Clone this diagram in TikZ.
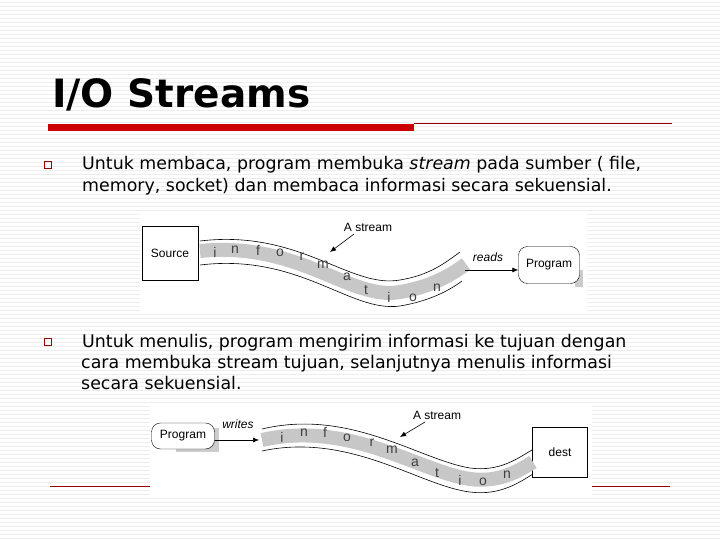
\documentclass[tikz,border=0pt]{standalone}
\usetikzlibrary{arrows.meta}
\usepackage{fontspec}
\setmainfont{DejaVu Sans}
\newfontfamily\arialf{Liberation Sans}
\begin{document}
\begin{tikzpicture}[x=1pt,y=-1pt,
  body/.style={anchor=base west,inner sep=0pt,font=\fontsize{17.4}{20}\selectfont},
  fig/.style={font=\arialf\fontsize{12}{14}\selectfont,inner sep=0pt},
  letter/.style={font=\arialf\fontsize{14}{14}\selectfont,text=black!75,inner sep=0pt},
  bul/.style={draw=red!60!black,line width=0.6pt,minimum size=7pt,inner sep=0pt},
  arr/.style={-{Latex[length=6pt,width=5pt]},line width=0.6pt}]
\useasboundingbox (0,0) rectangle (720,540);
\fill[white] (0,0) rectangle (720,540);
\foreach \y in {2,6,...,538} \draw[black!7,line width=0.5pt] (0,\y) -- (720,\y);
% title
\node[anchor=base west,inner sep=0pt,font=\bfseries\fontsize{39}{44}\selectfont] (title) at (52,108) {I/O Streams};
\fill[red!80!black] (48,124) rectangle (414,131);
\draw[red!60!black,line width=0.6pt] (414,123.5) -- (672,123.5);
% bullet 1
\node[bul] (b1) at (48,165) {};
\node[body] (t1) at (82,170) {Untuk membaca, program membuka \emph{stream} pada sumber ( file,};
\node[body] (t2) at (82,192) {memory, socket) dan membaca informasi secara sekuensial.};
% figure 1
\fill[white] (140,213) rectangle (587,313);
\node[fig,draw,minimum width=56pt,minimum height=54pt] (src) at (170,253) {Source};
\fill[black!20] (575,270) rectangle (583,287);
\node[fig,draw,rounded corners=9pt,fill=white,minimum width=61pt,minimum height=37pt] (prog1) at (549,265) {Program};
\draw[black!22,line width=14pt] (200,251) .. controls (300,241) and (350,301) .. (400,292) .. controls (430,287) and (450,276) .. (466,264);
\draw[line width=0.6pt] (200,241) .. controls (300,229) and (350,289) .. (400,280) .. controls (430,275) and (445,263) .. (460,252);
\draw[line width=0.6pt] (200,265) .. controls (300,253) and (350,313) .. (400,306) .. controls (430,301) and (450,290) .. (462,281);
\foreach \c/\x/\y in {i/215/252,n/235/250,f/258/250,o/280/253,r/302/257,m/323/265,a/347/277,t/366/290,i/389/297,o/413/298,n/437/288}
  \node[letter] at (\x,\y) {\c};
\node[fig] (as1) at (368,227) {A stream};
\coordinate (as1t) at (330,252);
\draw[arr] (354,234) -- (as1t);
\node[fig,font=\arialf\itshape\fontsize{12}{14}\selectfont] (rd) at (488,257) {reads};
\coordinate (rds) at (465,270);
\draw[arr] (rds) -- (prog1.west|-rds);
% bullet 2
\node[bul] (b2) at (48,342) {};
\node[body] (t3) at (82,347) {Untuk menulis, program mengirim informasi ke tujuan dengan};
\node[body] (t4) at (81,368) {cara membuka stream tujuan, selanjutnya menulis informasi};
\node[body] (t5) at (81,389) {secara sekuensial.};
% bottom red line
\draw[red!60!black,line width=0.6pt] (50,486) -- (670,486);
% figure 2
\fill[white] (150,405) rectangle (592,498);
\fill[black!20] (176,428) rectangle (219,452);
\node[fig,draw,rounded corners=9pt,fill=white,minimum width=63pt,minimum height=26pt] (prog2) at (183,436) {Program};
\node[fig,draw,minimum width=55pt,minimum height=50pt] (dest) at (560,452) {dest};
\draw[black!22,line width=14pt] (262,440) .. controls (350,420) and (420,472) .. (470,479) .. controls (500,483) and (520,470) .. (533,462);
\draw[line width=0.6pt] (262,429) .. controls (350,408) and (420,460) .. (470,468) .. controls (500,472) and (518,458) .. (532,450);
\draw[line width=0.6pt] (262,451) .. controls (350,432) and (420,486) .. (470,492) .. controls (500,496) and (520,482) .. (533,474);
\foreach \c/\x/\y in {i/282/437,n/304/433,f/325/432,o/347/438,r/372/443,m/392/450,a/415/463,t/437/473,i/460/480,o/483/482,n/507/475}
  \node[letter] at (\x,\y) {\c};
\node[fig] (as2) at (437,415) {A stream};
\coordinate (as2t) at (400,437);
\draw[arr] (425,422) -- (as2t);
\node[fig,font=\arialf\itshape\fontsize{12}{14}\selectfont] (wr) at (238,424) {writes};
\coordinate (wre) at (259,440);
\draw[arr] (prog2.east|-wre) -- (wre);
\end{tikzpicture}
\end{document}
